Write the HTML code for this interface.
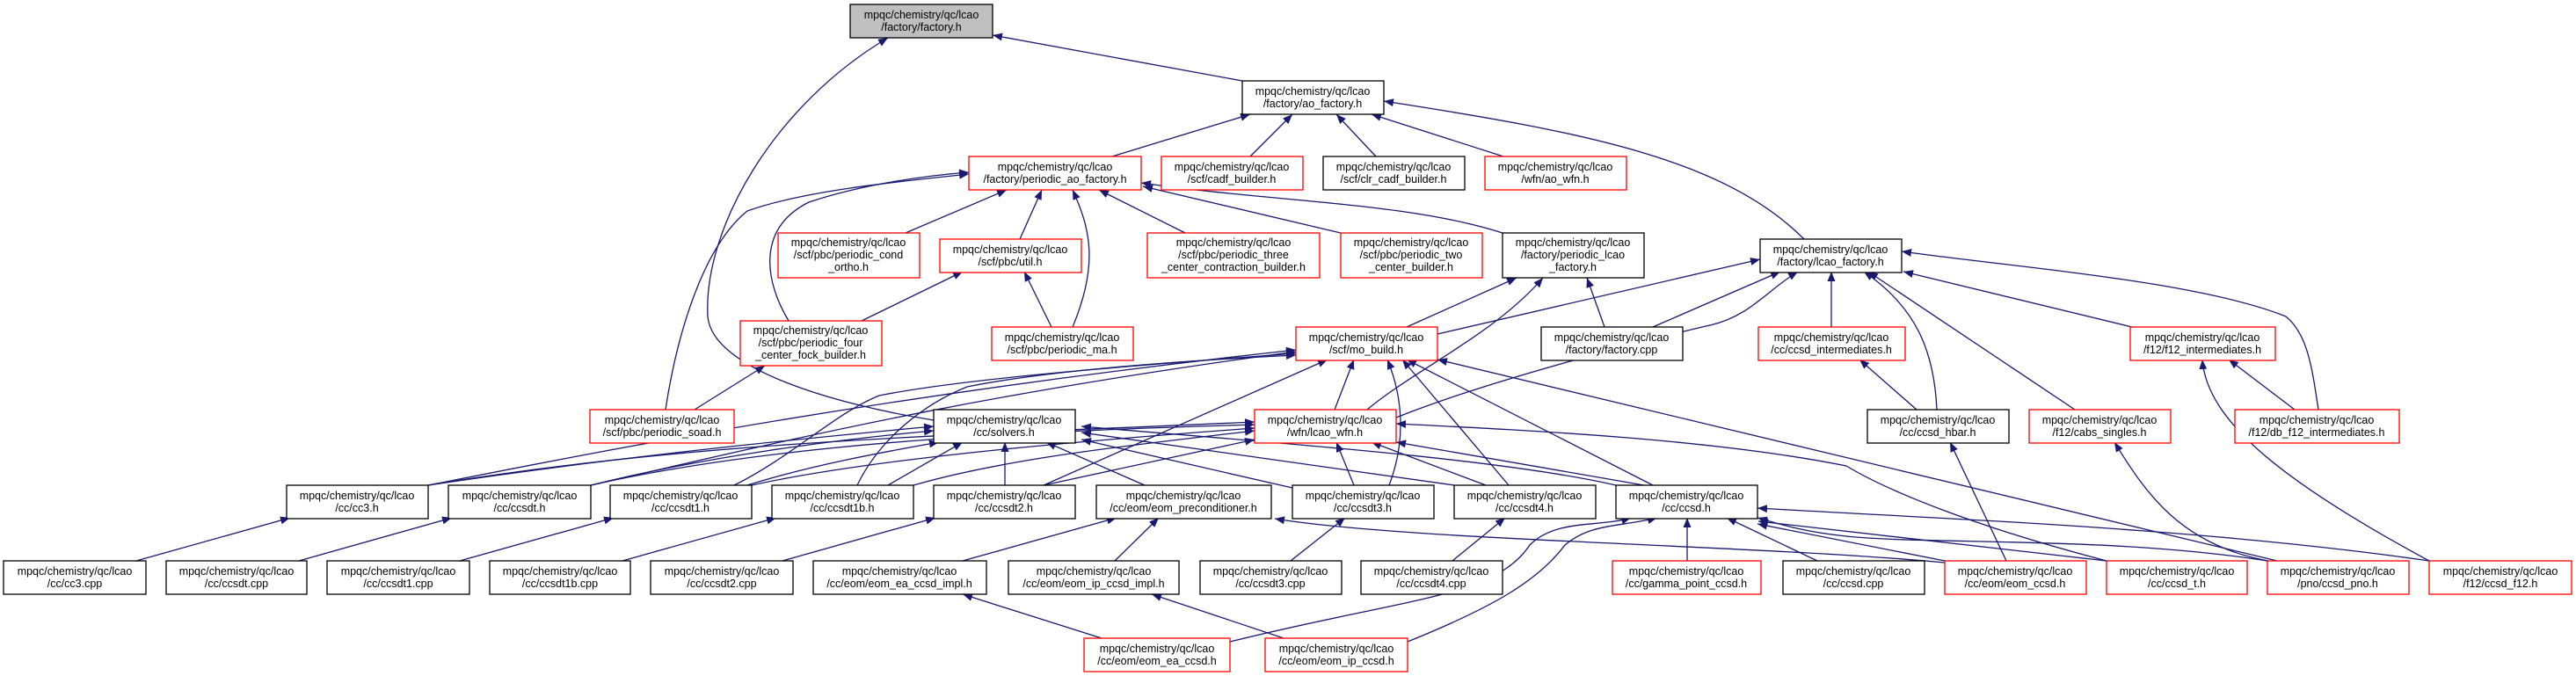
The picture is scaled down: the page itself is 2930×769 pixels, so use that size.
<!DOCTYPE html>
<html><head><meta charset="utf-8"><style>
html,body{margin:0;padding:0;background:#fff;}
svg{display:block;}
text{font-family:"Liberation Sans",sans-serif;font-size:12.5px;fill:#000;text-anchor:middle;}
.e{fill:none;stroke:#191970;stroke-width:1.3;marker-end:url(#a);}
.r{fill:#fff;stroke:#ff0000;stroke-width:1.3;}
.k{fill:#fff;stroke:#000;stroke-width:1.3;}
</style></head><body>
<svg width="2930" height="769" viewBox="0 0 2930 769" xmlns="http://www.w3.org/2000/svg">
<defs><marker id="a" markerWidth="11" markerHeight="9" refX="11" refY="4.5" orient="auto" markerUnits="userSpaceOnUse"><path d="M0,0 L11,4.5 L0,9z" fill="#191970"/></marker></defs>
<g>
<path class="e" d="M1413,92 L1129,40"/>
<path class="e" d="M1062,478 C950,460 810,420 805,360 C800,260 880,120 1010,43"/>
<path class="e" d="M1265,178 L1422,130"/>
<path class="e" d="M1422,178 L1470,130"/>
<path class="e" d="M1565,178 L1520,130"/>
<path class="e" d="M1710,178 L1560,130"/>
<path class="e" d="M2052,272 C1960,180 1800,150 1574,115"/>
<path class="e" d="M1030,265 L1145,216"/>
<path class="e" d="M1160,272 L1185,216"/>
<path class="e" d="M1220,372 C1250,300 1240,260 1220,216"/>
<path class="e" d="M1348,265 L1250,216"/>
<path class="e" d="M1525,265 L1300,212"/>
<path class="e" d="M1709,265 C1600,230 1450,230 1298,208"/>
<path class="e" d="M897,365 C870,320 860,260 920,230 C980,210 1050,200 1102,196"/>
<path class="e" d="M757,466 C770,380 800,280 850,240 C920,215 1040,205 1102,198"/>
<path class="e" d="M980,365 L1095,309"/>
<path class="e" d="M1196,372 L1165,309"/>
<path class="e" d="M790,466 L870,416"/>
<path class="e" d="M1600,372 L1725,316"/>
<path class="e" d="M1555,466 C1610,420 1700,380 1755,316"/>
<path class="e" d="M1825,372 L1805,316"/>
<path class="e" d="M1635,380 L2002,295"/>
<path class="e" d="M1880,372 L2025,309"/>
<path class="e" d="M1588,475 C1700,430 1900,380 1945,370 C1990,360 2010,330 2045,309"/>
<path class="e" d="M2083,372 L2083,309"/>
<path class="e" d="M2203,466 C2200,400 2180,350 2120,309"/>
<path class="e" d="M2360,466 L2125,309"/>
<path class="e" d="M2425,372 L2165,309"/>
<path class="e" d="M2637,466 C2630,420 2625,380 2600,360 C2500,320 2300,305 2163,286"/>
<path class="e" d="M2180,466 L2115,409"/>
<path class="e" d="M2610,466 L2535,409"/>
<path class="e" d="M2763,638 C2600,550 2510,480 2505,409"/>
<path class="e" d="M2580,638 C2480,620 2440,560 2405,503"/>
<path class="e" d="M2282,638 L2218,503"/>
<!-- to mo_build -->
<path class="e" d="M487,552 C700,510 1000,450 1474,398"/>
<path class="e" d="M672,552 C900,500 1100,450 1474,400"/>
<path class="e" d="M835,552 C900,520 950,470 1000,450 C1100,430 1300,415 1474,402"/>
<path class="e" d="M975,552 C1000,500 1050,460 1100,440 C1200,420 1350,410 1474,404"/>
<path class="e" d="M1187,552 L1510,409"/>
<path class="e" d="M1518,466 L1540,409"/>
<path class="e" d="M1580,552 C1600,500 1595,450 1578,409"/>
<path class="e" d="M1716,552 L1595,409"/>
<path class="e" d="M1880,552 L1600,409"/>
<path class="e" d="M2590,638 L1635,409"/>
<!-- to solvers -->
<path class="e" d="M487,552 C700,520 900,500 1062,485"/>
<path class="e" d="M672,552 C800,520 950,500 1062,490"/>
<path class="e" d="M850,552 C920,530 1000,515 1068,503"/>
<path class="e" d="M1010,552 L1095,503"/>
<path class="e" d="M1143,552 L1143,503"/>
<path class="e" d="M1302,552 L1190,503"/>
<path class="e" d="M1470,555 L1230,500"/>
<path class="e" d="M1654,552 L1230,492"/>
<path class="e" d="M1838,552 C1700,520 1400,500 1230,485"/>
<!-- to lcao_wfn -->
<path class="e" d="M487,552 C800,500 1100,495 1427,480"/>
<path class="e" d="M672,552 C900,500 1200,490 1427,483"/>
<path class="e" d="M855,552 C1000,520 1250,500 1427,487"/>
<path class="e" d="M1039,552 C1150,520 1300,505 1427,490"/>
<path class="e" d="M1187,552 L1427,500"/>
<path class="e" d="M1540,552 L1520,503"/>
<path class="e" d="M1690,552 L1560,503"/>
<path class="e" d="M1870,552 L1588,503"/>
<path class="e" d="M2396,638 C2250,600 2150,560 2100,530 C1950,500 1750,490 1588,482"/>
<!-- to ccsd -->
<path class="e" d="M1919,638 L1919,589"/>
<path class="e" d="M2067,638 L1964,589"/>
<path class="e" d="M2212,638 L1999,596"/>
<path class="e" d="M2396,638 L2000,593"/>
<path class="e" d="M2579,638 C2400,610 2200,620 2100,610 C2050,605 2020,595 1999,589"/>
<path class="e" d="M2763,638 C2500,600 2200,590 1999,578"/>
<path class="e" d="M1399,730 C1600,680 1700,680 1740,620 C1770,590 1820,600 1855,589"/>
<path class="e" d="M1601,730 C1700,690 1750,660 1780,620 C1810,595 1840,600 1885,589"/>
<!-- eom precond -->
<path class="e" d="M2212,640 C2000,620 1600,615 1450,590"/>
<path class="e" d="M1095,638 L1270,589"/>
<path class="e" d="M1268,638 L1318,589"/>
<path class="e" d="M890,638 L1064,589"/>
<path class="e" d="M155,638 L330,589"/>
<path class="e" d="M340,638 L514,589"/>
<path class="e" d="M523,638 L698,589"/>
<path class="e" d="M708,638 L883,589"/>
<path class="e" d="M1468,638 L1530,589"/>
<path class="e" d="M1652,638 L1712,589"/>
<path class="e" d="M1253,726 L1095,676"/>
<path class="e" d="M1460,726 L1310,676"/>
</g>
<g>
<rect x="967" y="5" width="162" height="38" fill="#bfbfbf" stroke="#000" stroke-width="1.3"/><text x="1048" y="21">mpqc/chemistry/qc/lcao</text><text x="1048" y="35">/factory/factory.h</text>
<rect class="k" x="1413" y="92" width="161" height="38"/><text x="1493" y="108">mpqc/chemistry/qc/lcao</text><text x="1493" y="122">/factory/ao_factory.h</text>
<rect class="r" x="1102" y="178" width="196" height="38"/><text x="1200" y="194">mpqc/chemistry/qc/lcao</text><text x="1200" y="208">/factory/periodic_ao_factory.h</text>
<rect class="r" x="1321" y="178" width="161" height="38"/><text x="1401" y="194">mpqc/chemistry/qc/lcao</text><text x="1401" y="208">/scf/cadf_builder.h</text>
<rect class="k" x="1505" y="178" width="161" height="38"/><text x="1585" y="194">mpqc/chemistry/qc/lcao</text><text x="1585" y="208">/scf/clr_cadf_builder.h</text>
<rect class="r" x="1689" y="178" width="161" height="38"/><text x="1769" y="194">mpqc/chemistry/qc/lcao</text><text x="1769" y="208">/wfn/ao_wfn.h</text>
<rect class="r" x="885" y="265" width="161" height="51"/><text x="965" y="280">mpqc/chemistry/qc/lcao</text><text x="965" y="294">/scf/pbc/periodic_cond</text><text x="965" y="308">_ortho.h</text>
<rect class="r" x="1069" y="272" width="161" height="38"/><text x="1149" y="288">mpqc/chemistry/qc/lcao</text><text x="1149" y="302">/scf/pbc/util.h</text>
<rect class="r" x="1305" y="265" width="196" height="51"/><text x="1403" y="280">mpqc/chemistry/qc/lcao</text><text x="1403" y="294">/scf/pbc/periodic_three</text><text x="1403" y="308">_center_contraction_builder.h</text>
<rect class="r" x="1525" y="265" width="161" height="51"/><text x="1605" y="280">mpqc/chemistry/qc/lcao</text><text x="1605" y="294">/scf/pbc/periodic_two</text><text x="1605" y="308">_center_builder.h</text>
<rect class="k" x="1709" y="265" width="161" height="51"/><text x="1789" y="280">mpqc/chemistry/qc/lcao</text><text x="1789" y="294">/factory/periodic_lcao</text><text x="1789" y="308">_factory.h</text>
<rect class="k" x="2002" y="272" width="161" height="38"/><text x="2082" y="288">mpqc/chemistry/qc/lcao</text><text x="2082" y="302">/factory/lcao_factory.h</text>
<rect class="r" x="842" y="365" width="161" height="51"/><text x="922" y="380">mpqc/chemistry/qc/lcao</text><text x="922" y="394">/scf/pbc/periodic_four</text><text x="922" y="408">_center_fock_builder.h</text>
<rect class="r" x="1128" y="372" width="161" height="38"/><text x="1208" y="388">mpqc/chemistry/qc/lcao</text><text x="1208" y="402">/scf/pbc/periodic_ma.h</text>
<rect class="r" x="1474" y="372" width="161" height="38"/><text x="1554" y="388">mpqc/chemistry/qc/lcao</text><text x="1554" y="402">/scf/mo_build.h</text>
<rect class="k" x="1753" y="372" width="161" height="38"/><text x="1833" y="388">mpqc/chemistry/qc/lcao</text><text x="1833" y="402">/factory/factory.cpp</text>
<rect class="r" x="2000" y="372" width="167" height="38"/><text x="2083" y="388">mpqc/chemistry/qc/lcao</text><text x="2083" y="402">/cc/ccsd_intermediates.h</text>
<rect class="r" x="2423" y="372" width="165" height="38"/><text x="2505" y="388">mpqc/chemistry/qc/lcao</text><text x="2505" y="402">/f12/f12_intermediates.h</text>
<rect class="r" x="671" y="466" width="164" height="38"/><text x="753" y="482">mpqc/chemistry/qc/lcao</text><text x="753" y="496">/scf/pbc/periodic_soad.h</text>
<rect class="k" x="1062" y="466" width="161" height="38"/><text x="1142" y="482">mpqc/chemistry/qc/lcao</text><text x="1142" y="496">/cc/solvers.h</text>
<rect class="r" x="1427" y="466" width="161" height="38"/><text x="1507" y="482">mpqc/chemistry/qc/lcao</text><text x="1507" y="496">/wfn/lcao_wfn.h</text>
<rect class="k" x="2124" y="466" width="161" height="38"/><text x="2204" y="482">mpqc/chemistry/qc/lcao</text><text x="2204" y="496">/cc/ccsd_hbar.h</text>
<rect class="r" x="2308" y="466" width="161" height="38"/><text x="2388" y="482">mpqc/chemistry/qc/lcao</text><text x="2388" y="496">/f12/cabs_singles.h</text>
<rect class="r" x="2542" y="466" width="187" height="38"/><text x="2635" y="482">mpqc/chemistry/qc/lcao</text><text x="2635" y="496">/f12/db_f12_intermediates.h</text>
<rect class="k" x="326" y="552" width="161" height="38"/><text x="406" y="568">mpqc/chemistry/qc/lcao</text><text x="406" y="582">/cc/cc3.h</text>
<rect class="k" x="510" y="552" width="162" height="38"/><text x="591" y="568">mpqc/chemistry/qc/lcao</text><text x="591" y="582">/cc/ccsdt.h</text>
<rect class="k" x="694" y="552" width="161" height="38"/><text x="774" y="568">mpqc/chemistry/qc/lcao</text><text x="774" y="582">/cc/ccsdt1.h</text>
<rect class="k" x="878" y="552" width="161" height="38"/><text x="958" y="568">mpqc/chemistry/qc/lcao</text><text x="958" y="582">/cc/ccsdt1b.h</text>
<rect class="k" x="1062" y="552" width="161" height="38"/><text x="1142" y="568">mpqc/chemistry/qc/lcao</text><text x="1142" y="582">/cc/ccsdt2.h</text>
<rect class="k" x="1247" y="552" width="199" height="38"/><text x="1346" y="568">mpqc/chemistry/qc/lcao</text><text x="1346" y="582">/cc/eom/eom_preconditioner.h</text>
<rect class="k" x="1470" y="552" width="161" height="38"/><text x="1550" y="568">mpqc/chemistry/qc/lcao</text><text x="1550" y="582">/cc/ccsdt3.h</text>
<rect class="k" x="1654" y="552" width="161" height="38"/><text x="1734" y="568">mpqc/chemistry/qc/lcao</text><text x="1734" y="582">/cc/ccsdt4.h</text>
<rect class="k" x="1838" y="552" width="161" height="38"/><text x="1918" y="568">mpqc/chemistry/qc/lcao</text><text x="1918" y="582">/cc/ccsd.h</text>
<rect class="k" x="4" y="638" width="162" height="38"/><text x="85" y="654">mpqc/chemistry/qc/lcao</text><text x="85" y="668">/cc/cc3.cpp</text>
<rect class="k" x="189" y="638" width="160" height="38"/><text x="269" y="654">mpqc/chemistry/qc/lcao</text><text x="269" y="668">/cc/ccsdt.cpp</text>
<rect class="k" x="372" y="638" width="162" height="38"/><text x="453" y="654">mpqc/chemistry/qc/lcao</text><text x="453" y="668">/cc/ccsdt1.cpp</text>
<rect class="k" x="557" y="638" width="160" height="38"/><text x="637" y="654">mpqc/chemistry/qc/lcao</text><text x="637" y="668">/cc/ccsdt1b.cpp</text>
<rect class="k" x="740" y="638" width="162" height="38"/><text x="821" y="654">mpqc/chemistry/qc/lcao</text><text x="821" y="668">/cc/ccsdt2.cpp</text>
<rect class="k" x="925" y="638" width="197" height="38"/><text x="1023" y="654">mpqc/chemistry/qc/lcao</text><text x="1023" y="668">/cc/eom/eom_ea_ccsd_impl.h</text>
<rect class="k" x="1147" y="638" width="194" height="38"/><text x="1244" y="654">mpqc/chemistry/qc/lcao</text><text x="1244" y="668">/cc/eom/eom_ip_ccsd_impl.h</text>
<rect class="k" x="1365" y="638" width="161" height="38"/><text x="1445" y="654">mpqc/chemistry/qc/lcao</text><text x="1445" y="668">/cc/ccsdt3.cpp</text>
<rect class="k" x="1548" y="638" width="161" height="38"/><text x="1628" y="654">mpqc/chemistry/qc/lcao</text><text x="1628" y="668">/cc/ccsdt4.cpp</text>
<rect class="r" x="1834" y="638" width="169" height="38"/><text x="1918" y="654">mpqc/chemistry/qc/lcao</text><text x="1918" y="668">/cc/gamma_point_ccsd.h</text>
<rect class="k" x="2028" y="638" width="161" height="38"/><text x="2108" y="654">mpqc/chemistry/qc/lcao</text><text x="2108" y="668">/cc/ccsd.cpp</text>
<rect class="r" x="2212" y="638" width="161" height="38"/><text x="2292" y="654">mpqc/chemistry/qc/lcao</text><text x="2292" y="668">/cc/eom/eom_ccsd.h</text>
<rect class="r" x="2396" y="638" width="160" height="38"/><text x="2476" y="654">mpqc/chemistry/qc/lcao</text><text x="2476" y="668">/cc/ccsd_t.h</text>
<rect class="r" x="2579" y="638" width="161" height="38"/><text x="2659" y="654">mpqc/chemistry/qc/lcao</text><text x="2659" y="668">/pno/ccsd_pno.h</text>
<rect class="r" x="2763" y="638" width="162" height="38"/><text x="2844" y="654">mpqc/chemistry/qc/lcao</text><text x="2844" y="668">/f12/ccsd_f12.h</text>
<rect class="r" x="1233" y="726" width="166" height="38"/><text x="1316" y="742">mpqc/chemistry/qc/lcao</text><text x="1316" y="756">/cc/eom/eom_ea_ccsd.h</text>
<rect class="r" x="1439" y="726" width="162" height="38"/><text x="1520" y="742">mpqc/chemistry/qc/lcao</text><text x="1520" y="756">/cc/eom/eom_ip_ccsd.h</text>
</g>
</svg>
</body></html>
